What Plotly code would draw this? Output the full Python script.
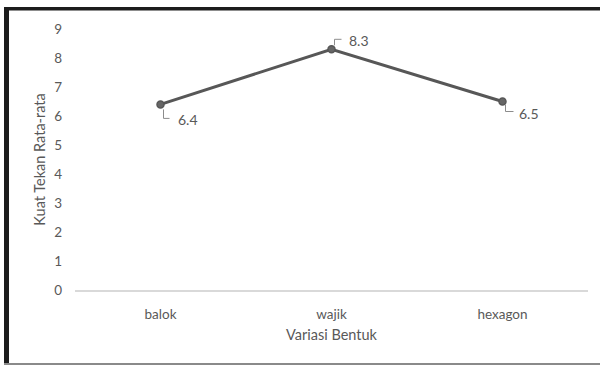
import plotly.graph_objects as go

# Compressive strength by shape variation
bentuk = ["balok", "wajik", "hexagon"]
kuat_tekan = [6.4, 8.3, 6.5]
y_ticks = [0, 1, 2, 3, 4, 5, 6, 7, 8, 9]

W, H = 600, 365
ML, MR, MT, MB = 75, 12, 29, 75
PW, PH = W - ML - MR, H - MT - MB

TEXT = "#595959"
LINE = "#575757"
FONT = "Lato, 'Open Sans', sans-serif"


def px_x(p):
    return (p - ML) / PW


def px_y(p):
    return 1 - (p - MT) / PH


fig = go.Figure()
fig.add_trace(go.Scatter(
    x=bentuk, y=kuat_tekan, mode="lines+markers",
    line=dict(color=LINE, width=3),
    marker=dict(size=7, color="#666666", line=dict(color=LINE, width=1.5)),
    hoverinfo="skip", showlegend=False,
))

# data labels with small elbow leader lines (pixel offsets from each point)
label_specs = {
    "balok": dict(path="M 3,-5 L 3,-14 L 9,-14", xs=15, ys=-15),
    "wajik": dict(path="M 3,4 L 3,10 L 10,10", xs=15, ys=9),
    "hexagon": dict(path="M 3,-3 L 3,-10 L 11,-10", xs=14, ys=-12),
}
for cat, val in zip(bentuk, kuat_tekan):
    spec = label_specs[cat]
    fig.add_shape(type="path", xref="x", yref="y", xsizemode="pixel",
                  ysizemode="pixel", xanchor=cat, yanchor=val,
                  path=spec["path"], line=dict(color="#8c8c8c", width=1))
    fig.add_annotation(x=cat, y=val, text=f"{val}", showarrow=False,
                       xanchor="left", yanchor="middle",
                       xshift=spec["xs"], yshift=spec["ys"],
                       font=dict(size=14, color=TEXT, family=FONT))

# outer frame: heavy dark edges on left and top, thin grey at bottom
fig.add_shape(type="rect", xref="paper", yref="paper",
              x0=px_x(4), x1=px_x(9), y0=px_y(H), y1=px_y(7),
              fillcolor="#1c1c1c", line=dict(width=0), layer="above")
fig.add_shape(type="rect", xref="paper", yref="paper",
              x0=px_x(4), x1=px_x(W), y0=px_y(10.5), y1=px_y(7),
              fillcolor="#1c1c1c", line=dict(width=0), layer="above")
fig.add_shape(type="rect", xref="paper", yref="paper",
              x0=px_x(4), x1=px_x(W), y0=px_y(H), y1=px_y(363),
              fillcolor="#8a8a8a", line=dict(width=0), layer="above")

fig.update_layout(
    width=W, height=H,
    margin=dict(l=ML, r=MR, t=MT, b=MB),
    paper_bgcolor="white", plot_bgcolor="white",
    font=dict(family=FONT, color=TEXT, size=13),
    xaxis=dict(
        type="category", range=[-0.5, 2.5],
        showgrid=False, zeroline=False,
        showline=True, linecolor="#d9d9d9", linewidth=1.5,
        ticks="", ticklabelstandoff=11,
        tickfont=dict(size=13.5, color=TEXT, family=FONT),
        title=dict(text="Variasi Bentuk", standoff=9,
                   font=dict(size=14.5, color=TEXT, family=FONT)),
    ),
    yaxis=dict(
        range=[0, 9], tickvals=y_ticks,
        showgrid=False, zeroline=False, showline=False,
        ticks="", ticklabelstandoff=12,
        tickfont=dict(size=13.5, color=TEXT, family=FONT),
        title=dict(text="Kuat Tekan Rata-rata", standoff=5,
                   font=dict(size=14.5, color=TEXT, family=FONT)),
    ),
)

fig.write_html("out.html")
